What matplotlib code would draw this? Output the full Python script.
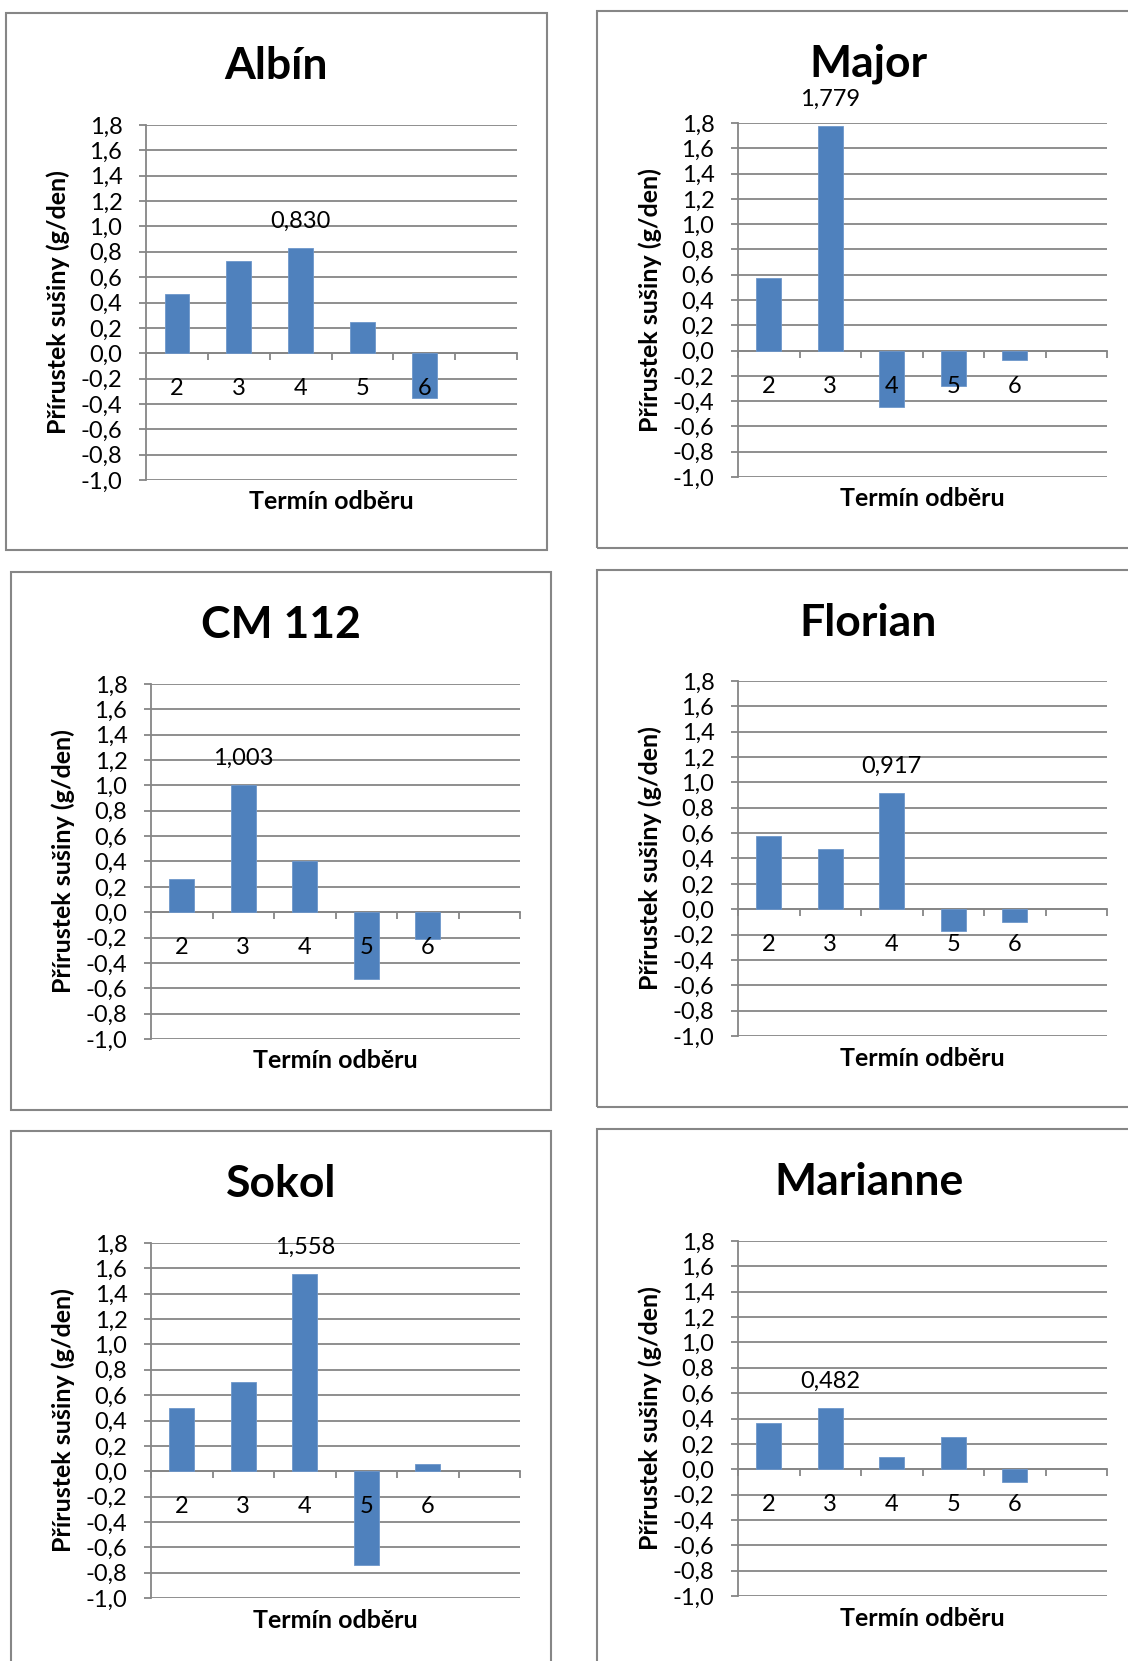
import matplotlib.pyplot as plt
from matplotlib.patches import Rectangle
from matplotlib.ticker import MultipleLocator, FuncFormatter

plt.rcParams['font.family'] = ['Lato', 'DejaVu Sans']

# data
odbery = ['2', '3', '4', '5', '6', '']
odrudy = ['Albín', 'Major', 'CM 112', 'Florian', 'Sokol', 'Marianne']

albin = [0.466, 0.726, 0.830, 0.249, -0.353]
major = [0.577, 1.779, -0.444, -0.281, -0.073]
cm112 = [0.265, 1.003, 0.403, -0.525, -0.209]
florian = [0.580, 0.473, 0.917, -0.175, -0.101]
sokol = [0.497, 0.707, 1.558, -0.739, 0.059]
marianne = [0.361, 0.482, 0.097, 0.253, -0.102]

hodnoty = [albin, major, cm112, florian, sokol, marianne]

W, H = 1128, 1661
seda = '#868686'
modra = '#4F81BD'

fig = plt.figure(figsize=(W / 100, H / 100), dpi=100)

# frames and plot areas in pixels: (left, top, right, bottom)
ramecky = [(6, 13, 547, 550), (597, 11, 1140, 548),
           (11, 572, 551, 1110), (597, 570, 1140, 1107),
           (11, 1131, 551, 1700), (597, 1129, 1140, 1700)]
plochy = [(146, 125, 517, 480), (738, 123, 1107, 477),
          (151, 684, 520, 1039), (738, 681, 1107, 1036),
          (151, 1243, 520, 1598), (738, 1241, 1107, 1596)]


def fx(x):
    return x / W


def fy(y):
    return 1 - y / H


def carka(v, pos=None):
    if abs(v) < 1e-9:
        v = 0.0
    return f'{v:.1f}'.replace('.', ',')


for nazev, data, ram, pl in zip(odrudy, hodnoty, ramecky, plochy):
    fig.patches.append(Rectangle((fx(ram[0]), fy(ram[3])), fx(ram[2] - ram[0]), (ram[3] - ram[1]) / H,
                                 transform=fig.transFigure, fill=False, edgecolor=seda, lw=1.5))

    ax = fig.add_axes([fx(pl[0]), fy(pl[3]), fx(pl[2] - pl[0]), (pl[3] - pl[1]) / H])
    pozice = list(range(len(data)))
    ax.bar(pozice, data, width=0.4, color=modra, edgecolor='#6d97cb', lw=0.6, zorder=3)

    ax.set_xlim(-0.5, len(odbery) - 0.5)
    ax.set_ylim(-1.0, 1.8)

    ax.yaxis.set_major_locator(MultipleLocator(0.2))
    ax.yaxis.set_major_formatter(FuncFormatter(carka))
    ax.yaxis.grid(True, color=seda, lw=1.3)
    ax.set_axisbelow(True)
    ax.xaxis.set_zorder(4)  # category labels sit on top of the bars
    ax.tick_params(axis='y', direction='out', length=5, width=1.3, color=seda, labelsize=17, pad=12)

    ax.spines['top'].set_visible(False)
    ax.spines['right'].set_visible(False)
    ax.spines['left'].set_color(seda)
    ax.spines['left'].set_linewidth(1.3)
    ax.spines['bottom'].set_position(('data', 0))
    ax.spines['bottom'].set_color(seda)
    ax.spines['bottom'].set_linewidth(1.3)

    ax.set_xticks([i - 0.5 for i in range(len(odbery) + 1)])
    ax.set_xticklabels([])
    ax.set_xticks(range(len(odbery)), minor=True)
    ax.set_xticklabels(odbery, minor=True)
    ax.tick_params(axis='x', which='major', direction='out', length=5, width=1.3, color=seda)
    ax.tick_params(axis='x', which='minor', length=0, labelsize=17, pad=18)

    i_max = data.index(max(data))
    ax.annotate(f'{data[i_max]:.3f}'.replace('.', ','), (pozice[i_max], data[i_max]),
                xytext=(0, 19), textcoords='offset points', ha='center', va='center', fontsize=17)

    stred = (ram[0] + ram[2]) / 2
    fig.text(fx(stred), fy(ram[1] + 53), nazev, ha='center', va='center', fontsize=32, fontweight='bold')
    fig.text(fx(pl[0] - 88), fy((pl[1] + pl[3]) / 2), 'Přírustek sušiny (g/den)', rotation=90,
             ha='center', va='center', fontsize=18, fontweight='bold')
    fig.text(fx((pl[0] + pl[2]) / 2), fy(pl[3] + 22), 'Termín odběru', ha='center', va='center',
             fontsize=18, fontweight='bold')

fig.savefig('out.png', dpi=100)
